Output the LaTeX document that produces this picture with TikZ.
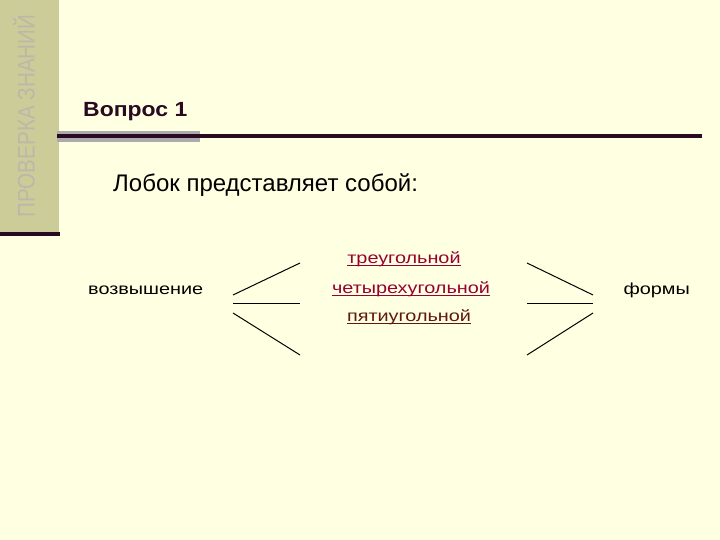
\documentclass[tikz,border=0pt]{standalone}
\usepackage{fontspec}
\setmainfont{Liberation Sans}
\definecolor{bgc}{RGB}{255,255,225}
\definecolor{panel}{RGB}{204,204,153}
\definecolor{vtext}{RGB}{188,184,168}
\definecolor{darkline}{RGB}{40,10,35}
\definecolor{greyline}{RGB}{172,170,172}
\definecolor{red1}{RGB}{150,0,50}
\definecolor{red2}{RGB}{95,25,15}
\tikzset{
  lbl/.style={inner sep=0pt, anchor=base, font=\fontsize{16}{18}\selectfont},
  opt/.style={lbl, text=red1},
  uline/.style={line width=1pt, red1},
  sline/.style={line width=1pt, black},
}
\newcommand{\wide}[1]{\scalebox{1.24}[1]{#1}}
\begin{document}
\begin{tikzpicture}[x=1pt,y=-1pt]
\useasboundingbox (0,0) rectangle (720,540);
\fill[bgc] (0,0) rectangle (720,540);
\fill[panel] (0,0) rectangle (59,232);
\fill[darkline] (0,232) rectangle (60,236);
\fill[greyline] (57,131) rectangle (200,142);
\fill[darkline] (57,134.5) rectangle (702,138.5);
\node[rotate=90, text=vtext, inner sep=0pt, font=\fontsize{24}{26}\selectfont] (vt) at (24,116) {\scalebox{0.86}[1]{ПРОВЕРКА ЗНАНИЙ}};
\node[anchor=base west, inner sep=0pt, text=darkline, font=\bfseries\fontsize{20.5}{24}\selectfont] (title) at (83,117) {\scalebox{1.12}[1]{Вопрос 1}};
\node[anchor=base west, inner sep=0pt, font=\fontsize{24}{26}\selectfont] (q) at (113,192) {Лобок представляет собой:};
\node[lbl, anchor=base west] (a) at (88,294) {\wide{возвышение}};
\node[opt] (o1) at (404,263) {\wide{треугольной}};
\node[opt] (o2) at (411,293) {\wide{четырехугольной}};
\node[opt, text=red2] (o3) at (409,321) {\wide{пятиугольной}};
\node[lbl, anchor=base east] (f) at (690,294) {\wide{формы}};
\draw[uline] ([yshift=-2pt]o1.base west) -- ([yshift=-2pt]o1.base east);
\draw[uline] ([yshift=-2pt]o2.base west) -- ([yshift=-2pt]o2.base east);
\draw[uline, red2] ([yshift=-2pt]o3.base west) -- ([yshift=-2pt]o3.base east);
\coordinate (l1a) at (233,295); \coordinate (l1b) at (300,263);
\coordinate (l2a) at (233,303); \coordinate (l2b) at (300,303);
\coordinate (l3a) at (233,313); \coordinate (l3b) at (300,355);
\coordinate (r1a) at (527,263); \coordinate (r1b) at (593,295);
\coordinate (r2a) at (527,303); \coordinate (r2b) at (593,303);
\coordinate (r3a) at (527,355); \coordinate (r3b) at (593,313);
\draw[sline] (l1a) -- (l1b);
\draw[sline] (l2a) -- (l2b);
\draw[sline] (l3a) -- (l3b);
\draw[sline] (r1a) -- (r1b);
\draw[sline] (r2a) -- (r2b);
\draw[sline] (r3a) -- (r3b);
\end{tikzpicture}
\end{document}
